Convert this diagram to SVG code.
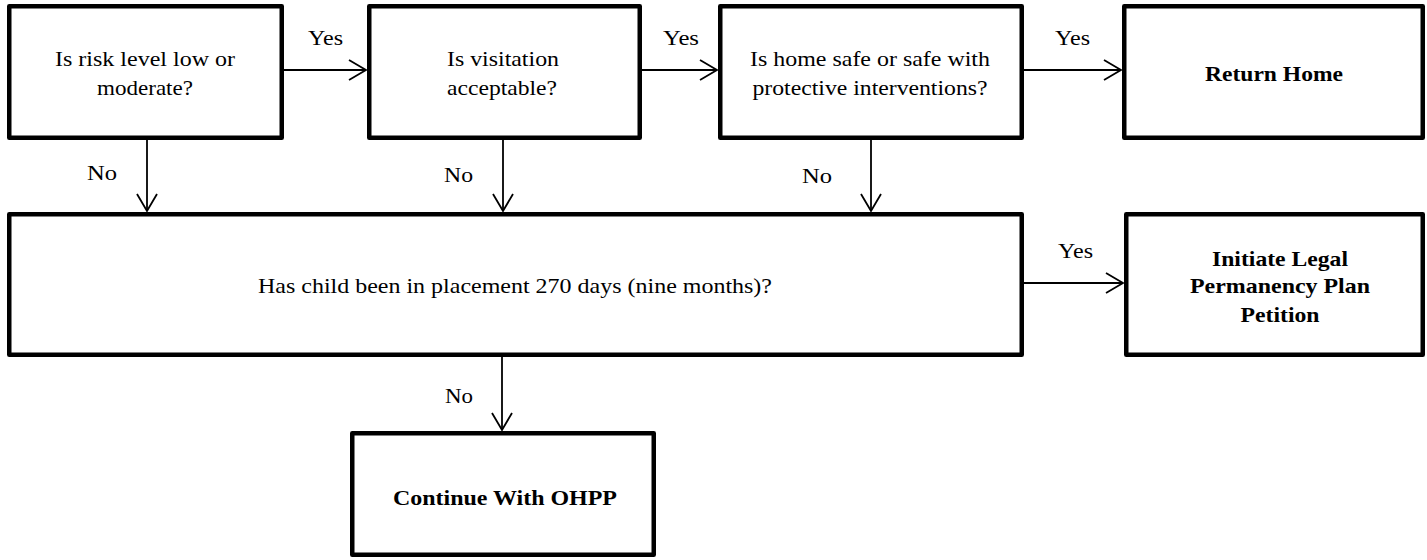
<svg xmlns="http://www.w3.org/2000/svg" width="1427" height="560" viewBox="0 0 1427 560">
<style>
.box{fill:#fff;stroke:#000;stroke-width:4.5;stroke-linejoin:round}
.t{font-family:"Liberation Serif","Times New Roman",serif;font-size:21px;fill:#000;text-anchor:middle}
.b{font-weight:bold}
.c{fill:none;stroke:#000;stroke-width:1.8}
</style>
<defs>
<marker id="ah" markerUnits="userSpaceOnUse" markerWidth="24" markerHeight="24" viewBox="-20 -12 22 24" refX="0" refY="0" orient="auto">
<path d="M-17,-10 L0,0 L-17,10" fill="none" stroke="#000" stroke-width="1.8"/>
</marker>
</defs>
<rect width="1427" height="560" fill="#fff"/>
<g id="connectors">
<line class="c" x1="284" y1="70" x2="366" y2="70" marker-end="url(#ah)"/>
<line class="c" x1="642" y1="70" x2="717" y2="70" marker-end="url(#ah)"/>
<line class="c" x1="1024" y1="70" x2="1121" y2="70" marker-end="url(#ah)"/>
<line class="c" x1="1024" y1="283" x2="1123" y2="283" marker-end="url(#ah)"/>
<line class="c" x1="147" y1="140" x2="147" y2="211" marker-end="url(#ah)"/>
<line class="c" x1="503" y1="140" x2="503" y2="211" marker-end="url(#ah)"/>
<line class="c" x1="871" y1="140" x2="871" y2="211" marker-end="url(#ah)"/>
<line class="c" x1="502" y1="357" x2="502" y2="430" marker-end="url(#ah)"/>
<text class="t" x="325.5" y="45" textLength="35" lengthAdjust="spacingAndGlyphs">Yes</text>
<text class="t" x="681" y="45" textLength="36" lengthAdjust="spacingAndGlyphs">Yes</text>
<text class="t" x="1072.5" y="45" textLength="35" lengthAdjust="spacingAndGlyphs">Yes</text>
<text class="t" x="1075.5" y="258" textLength="35" lengthAdjust="spacingAndGlyphs">Yes</text>
<text class="t" x="102" y="180" textLength="30" lengthAdjust="spacingAndGlyphs">No</text>
<text class="t" x="458.5" y="182" textLength="29" lengthAdjust="spacingAndGlyphs">No</text>
<text class="t" x="817" y="183" textLength="30" lengthAdjust="spacingAndGlyphs">No</text>
<text class="t" x="459" y="403" textLength="28" lengthAdjust="spacingAndGlyphs">No</text>
</g>
<g id="n1">
<rect class="box" x="9.25" y="6.25" width="272.5" height="131.5"/>
<text class="t" x="145" y="66" textLength="180" lengthAdjust="spacingAndGlyphs">Is risk level low or</text>
<text class="t" x="145" y="95" textLength="96" lengthAdjust="spacingAndGlyphs">moderate?</text>
</g>
<g id="n2">
<rect class="box" x="369.25" y="6.25" width="270.5" height="131.5"/>
<text class="t" x="503" y="66" textLength="112" lengthAdjust="spacingAndGlyphs">Is visitation</text>
<text class="t" x="502" y="95" textLength="110" lengthAdjust="spacingAndGlyphs">acceptable?</text>
</g>
<g id="n3">
<rect class="box" x="720.25" y="6.25" width="301.5" height="131.5"/>
<text class="t" x="870" y="66" textLength="240" lengthAdjust="spacingAndGlyphs">Is home safe or safe with</text>
<text class="t" x="870" y="95" textLength="235" lengthAdjust="spacingAndGlyphs">protective interventions?</text>
</g>
<g id="n4">
<rect class="box" x="1124.25" y="6.25" width="298.5" height="131.5"/>
<text class="t b" x="1274" y="81" textLength="138" lengthAdjust="spacingAndGlyphs">Return Home</text>
</g>
<g id="n5">
<rect class="box" x="9.25" y="214.25" width="1012.5" height="140.5"/>
<text class="t" x="515" y="293" textLength="514" lengthAdjust="spacingAndGlyphs">Has child been in placement 270 days (nine months)?</text>
</g>
<g id="n6">
<rect class="box" x="1126.25" y="214.25" width="296.5" height="140.5"/>
<text class="t b" x="1280" y="266" textLength="136" lengthAdjust="spacingAndGlyphs">Initiate Legal</text>
<text class="t b" x="1280" y="293" textLength="180" lengthAdjust="spacingAndGlyphs">Permanency Plan</text>
<text class="t b" x="1280" y="322" textLength="79" lengthAdjust="spacingAndGlyphs">Petition</text>
</g>
<g id="n7">
<rect class="box" x="352.25" y="433.25" width="301.5" height="121.5"/>
<text class="t b" x="505" y="505" textLength="224" lengthAdjust="spacingAndGlyphs">Continue With OHPP</text>
</g>
</svg>
